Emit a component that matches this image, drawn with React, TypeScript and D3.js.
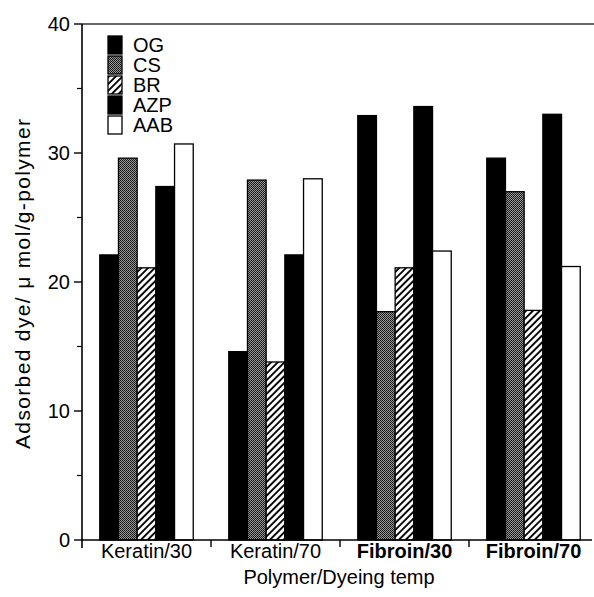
import { scaleBand, scaleLinear } from 'd3'

const categories = ['Keratin/30', 'Keratin/70', 'Fibroin/30', 'Fibroin/70']
const boldCategories = ['Fibroin/30', 'Fibroin/70']
const series = ['OG', 'CS', 'BR', 'AZP', 'AAB']

const ogValues = [22.1, 14.6, 32.9, 29.6]
const csValues = [29.6, 27.9, 17.7, 27.0]
const brValues = [21.1, 13.8, 21.1, 17.8]
const azpValues = [27.4, 22.1, 33.6, 33.0]
const aabValues = [30.7, 28.0, 22.4, 21.2]

const majorTicks = [0, 10, 20, 30, 40]
const minorTicks = [5, 15, 25, 35]

const width = 594
const height = 597

const plot = {
  left: 82,
  right: 592,
  top: 24,
  bottom: 540,
}

const fills: Record<string, string> = {
  OG: '#000',
  CS: 'url(#stipple)',
  BR: 'url(#hatch)',
  AZP: '#000',
  AAB: '#fff',
}

const valuesBySeries: Record<string, number[]> = {
  OG: ogValues,
  CS: csValues,
  BR: brValues,
  AZP: azpValues,
  AAB: aabValues,
}

const font = '"Liberation Sans", Arial, Helvetica, sans-serif'

function App() {
  const x0 = scaleBand()
    .domain(categories)
    .range([plot.left, plot.left + 129 * categories.length])
    .padding(0)

  const x1 = scaleBand()
    .domain(series)
    .range([0, x0.bandwidth()])
    .paddingInner(0)
    .paddingOuter(0.95)

  const y = scaleLinear().domain([0, 40]).range([plot.bottom, plot.top])

  return (
    <svg
      width={width}
      height={height}
      viewBox={`0 0 ${width} ${height}`}
      style={{ position: 'absolute', left: 0, top: 0, background: '#fff' }}
      fontFamily={font}
    >
      <defs>
        <pattern id="stipple" width={2} height={2} patternUnits="userSpaceOnUse">
          <rect width={2} height={2} fill="#999" />
          <rect x={0} y={0} width={1} height={1} fill="#111" />
          <rect x={1} y={1} width={1} height={1} fill="#222" />
        </pattern>
        <pattern
          id="hatch"
          width={4.8}
          height={4.8}
          patternUnits="userSpaceOnUse"
          patternTransform="rotate(45)"
        >
          <rect width={4.8} height={4.8} fill="#fff" />
          <line x1={1} y1={0} x2={1} y2={4.8} stroke="#000" strokeWidth={1.9} />
        </pattern>
      </defs>

      <rect width={width} height={height} fill="#fff" />

      {/* bars */}
      {categories.map((cat, ci) => (
        <g key={cat} transform={`translate(${x0(cat) ?? 0}, 0)`}>
          {series.map((s) => {
            const v = valuesBySeries[s][ci]
            return (
              <rect
                key={s}
                x={x1(s) ?? 0}
                y={y(v)}
                width={x1.bandwidth()}
                height={plot.bottom - y(v)}
                fill={fills[s]}
                stroke="#000"
                strokeWidth={1.3}
              />
            )
          })}
        </g>
      ))}

      {/* frame */}
      <line x1={plot.left} y1={plot.top} x2={width} y2={plot.top} stroke="#333" strokeWidth={1.5} />
      <line x1={plot.left} y1={plot.top} x2={plot.left} y2={plot.bottom + 8} stroke="#000" strokeWidth={1.6} />
      <line x1={plot.left} y1={plot.bottom} x2={plot.right} y2={plot.bottom} stroke="#000" strokeWidth={1.6} />

      {/* y ticks */}
      {majorTicks.map((t) => (
        <g key={t}>
          <line x1={plot.left - 8} y1={y(t)} x2={plot.left} y2={y(t)} stroke="#000" strokeWidth={1.4} />
          <text x={plot.left - 12} y={y(t)} dy="0.35em" textAnchor="end" fontSize={20}>
            {t}
          </text>
        </g>
      ))}
      {minorTicks.map((t) => (
        <line key={t} x1={plot.left - 5} y1={y(t)} x2={plot.left} y2={y(t)} stroke="#000" strokeWidth={1.2} />
      ))}

      {/* x ticks between groups */}
      {categories.slice(1).map((cat) => (
        <line
          key={cat}
          x1={x0(cat) ?? 0}
          y1={plot.bottom}
          x2={x0(cat) ?? 0}
          y2={plot.bottom + 7}
          stroke="#000"
          strokeWidth={1.4}
        />
      ))}

      {/* category labels */}
      {categories.map((cat) => (
        <text
          key={cat}
          x={(x0(cat) ?? 0) + x0.bandwidth() / 2}
          y={558}
          textAnchor="middle"
          fontSize={20}
          fontWeight={boldCategories.includes(cat) ? 'bold' : 'normal'}
        >
          {cat}
        </text>
      ))}

      <text x={339} y={584} textAnchor="middle" fontSize={20}>
        Polymer/Dyeing temp
      </text>

      <text
        transform={`translate(30, 284) rotate(-90)`}
        textAnchor="middle"
        fontSize={21}
        textLength={330}
        lengthAdjust="spacing"
      >
        Adsorbed dye/ μ mol/g-polymer
      </text>

      {/* legend */}
      {series.map((s, i) => (
        <g key={s} transform={`translate(108, ${36 + i * 20})`}>
          <rect width={14} height={18} fill={fills[s]} stroke="#000" strokeWidth={1.3} />
          <text x={25} y={16} fontSize={20}>
            {s}
          </text>
        </g>
      ))}
    </svg>
  )
}

export default App
